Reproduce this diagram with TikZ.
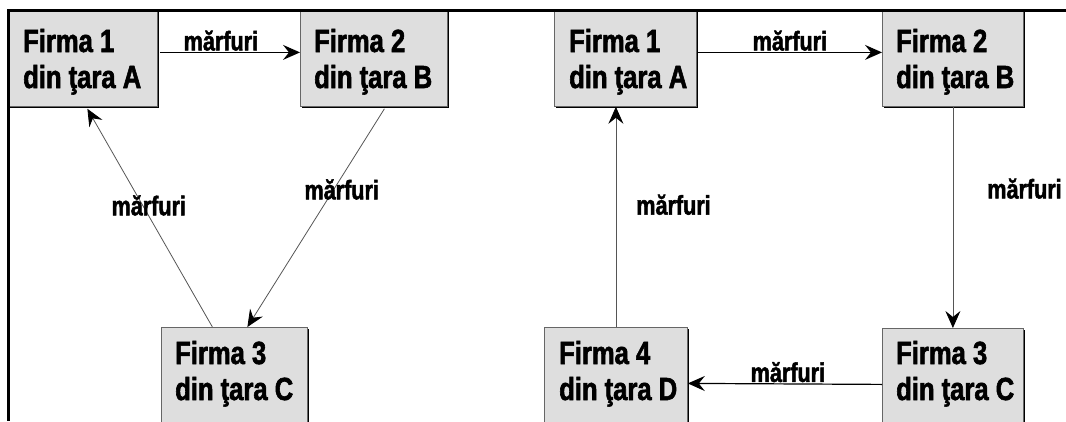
\documentclass[tikz,border=0pt]{standalone}
\usepackage{fontspec}
\setmainfont{Liberation Sans}[FakeStretch=0.8, BoldFeatures={FakeBold=1.8}]
\usetikzlibrary{arrows.meta,calc,shadows}
\definecolor{boxgray}{RGB}{222,222,222}
\definecolor{linegray}{RGB}{85,85,85}
\begin{document}
\begin{tikzpicture}[x=1pt,y=-1pt,
  firm/.style={draw=black!60, line width=0.8pt, fill=boxgray, inner sep=0pt,
    anchor=north west,
    general shadow={shadow xshift=1.6pt, shadow yshift=-1.6pt, fill=black}},
  topbox/.style={firm, minimum width=#1, minimum height=96pt},
  botbox/.style={firm, minimum width=#1, minimum height=112pt},
  firmtext/.style={font=\bfseries\fontsize{32}{36}\selectfont, align=left,
    anchor=base west, inner sep=0pt},
  goods/.style={font=\bfseries\fontsize{27}{30}\selectfont, text=black, inner sep=0pt},
  tip/.style={-{Stealth[length=17pt,width=15pt,inset=6pt,color=black]}},
  flow/.style={tip, black, line width=1.2pt},
  slant/.style={tip, linegray, line width=0.8pt}]
\clip (0,0) rectangle (1066,421);

% left scheme: three firms
\node[topbox=149pt] (a1) at (8,10) {};
\node[topbox=147pt] (a2) at (300,10) {};
\node[botbox=146pt] (a3) at (161,327) {};
% right scheme: four firms
\node[topbox=142pt] (b1) at (554,10) {};
\node[topbox=141pt] (b2) at (882,10) {};
\node[botbox=141pt] (b3) at (882,328) {};
\node[botbox=143pt] (b4) at (544,327) {};

% firm captions (the base anchor sits on the second line)
\node[firmtext] (a1t) at ([xshift=15pt,yshift=-78pt]a1.north west) {Firma 1\\din ţara A};
\node[firmtext] (a2t) at ([xshift=14pt,yshift=-78pt]a2.north west) {Firma 2\\din ţara B};
\node[firmtext] (a3t) at ([xshift=14pt,yshift=-73pt]a3.north west) {Firma 3\\din ţara C};
\node[firmtext] (b1t) at ([xshift=15pt,yshift=-78pt]b1.north west) {Firma 1\\din ţara A};
\node[firmtext] (b2t) at ([xshift=14pt,yshift=-78pt]b2.north west) {Firma 2\\din ţara B};
\node[firmtext] (b3t) at ([xshift=14pt,yshift=-72pt]b3.north west) {Firma 3\\din ţara C};
\node[firmtext] (b4t) at ([xshift=15pt,yshift=-73pt]b4.north west) {Firma 4\\din ţara D};

% flows of goods, left scheme
\draw[flow] ([xshift=2pt,yshift=6pt]a1.east) -- ([yshift=6pt]a2.west)
  node[goods, midway, anchor=base, xshift=-9pt, yshift=2pt] (la12) {mărfuri};
\draw[slant] ([xshift=10.5pt,yshift=-2pt]a2.south) -- ([xshift=13pt]a3.north)
  node[goods, pos=0.37, xshift=8pt] (la23) {mărfuri};
\draw[slant] ([xshift=-22pt]a3.north) -- ([xshift=4.5pt,yshift=-2pt]a1.south)
  node[goods, pos=0.557, xshift=6pt] (la31) {mărfuri};

% flows of goods, right scheme
\draw[flow] ([xshift=1pt,yshift=6pt]b1.east) -- ([yshift=6pt]b2.west)
  node[goods, midway, anchor=base, yshift=2pt] (lb12) {mărfuri};
\draw[slant] (b2.south) -- (b3.north)
  node[goods, pos=0.37, anchor=west, xshift=34pt] (lb23) {mărfuri};
\draw[flow] (b3.west) -- (b4.east)
  node[goods, midway, anchor=base, xshift=3pt, yshift=2pt] (lb34) {mărfuri};
\draw[slant] (b4.north) -- (b4.north |- b1.south)
  node[goods, pos=0.555, anchor=west, xshift=20pt] (lb41) {mărfuri};

% frame rules along the top and the left side
\draw[line width=2.5pt] (7,10.5) -- (1066,10.5);
\draw[line width=2.5pt] (8.5,10) -- (8.5,421);
\end{tikzpicture}
\end{document}
